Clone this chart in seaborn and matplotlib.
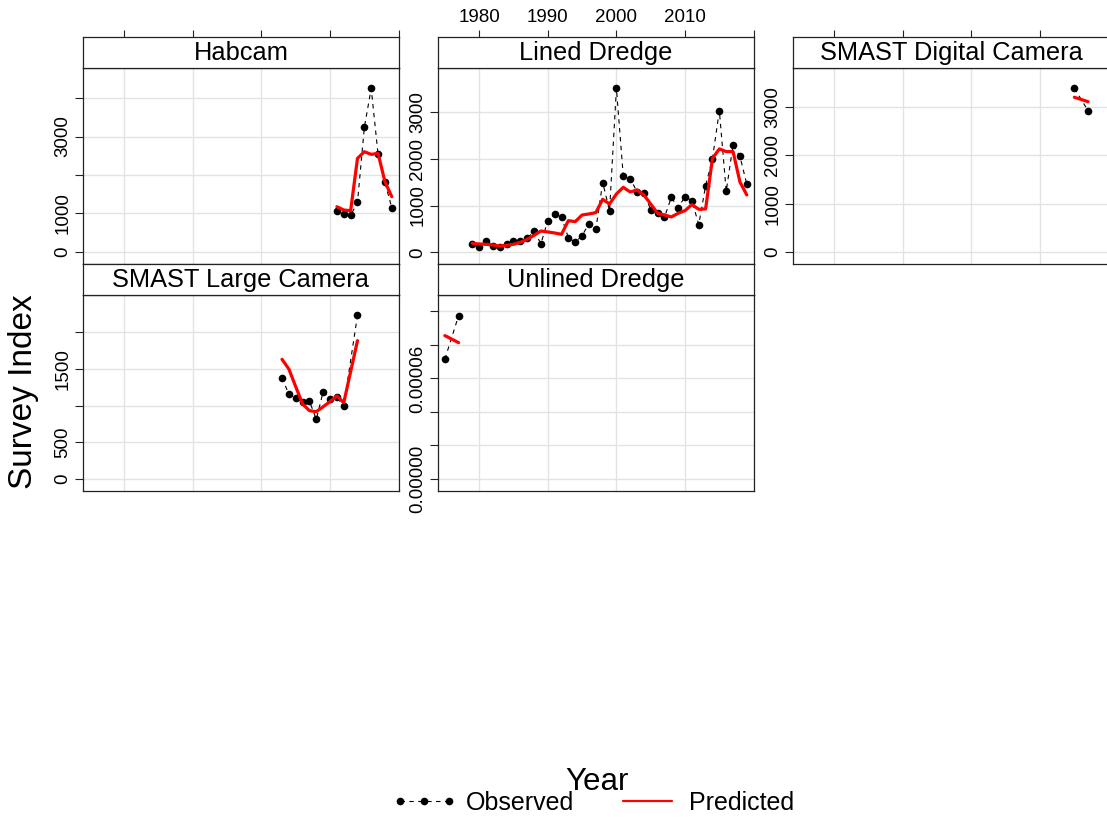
import matplotlib
matplotlib.use("Agg")
import matplotlib.pyplot as plt
from matplotlib.lines import Line2D
import pandas as pd
import seaborn as sns

# --- data ---
habcam_years = [2011, 2012, 2013, 2014, 2015, 2016, 2017, 2018, 2019]
habcam_obs = [1068, 973, 947, 1285, 3238, 4253, 2535, 1806, 1146]
habcam_pred = [1172, 1086, 1068, 2431, 2604, 2535, 2560, 1823, 1432]

lined_years = list(range(1979, 2020))
lined_obs = [185, 121, 249, 143, 114, 171, 249, 249, 299, 449,
             185, 677, 813, 748, 314, 214, 356, 613, 492, 1490,
             891, 3507, 1625, 1575, 1297, 1276, 912, 834, 748, 1176,
             955, 1190, 1105, 592, 1426, 2003, 3029, 1304, 2302, 2053,
             1454]
lined_pred = [192, 178, 171, 157, 135, 150, 171, 214, 278, 363,
              456, 435, 413, 385, 677, 656, 798, 820, 848, 1133,
              1033, 1247, 1390, 1290, 1333, 1226, 1033, 834, 798, 756,
              834, 891, 1019, 919, 927, 2010, 2210, 2153, 2153, 1504,
              1226]

smast_dig_years = [2015, 2017]
smast_dig_obs = [3397, 2931]
smast_dig_pred = [3210, 3119]

smast_large_years = [2003, 2004, 2005, 2006, 2007, 2008, 2009, 2010, 2011, 2012, 2014]
smast_large_obs = [1382, 1155, 1101, 1046, 1060, 814, 1191, 1091, 1114, 996, 2233]
smast_large_pred = [1633, 1500, 1259, 1023, 932, 918, 986, 1055, 1132, 1041, 1887]

unlined_years = [1975, 1977]
unlined_obs = [7.15e-5, 9.75e-5]
unlined_pred = [8.56e-5, 8.14e-5]

year_ticks = [1980, 1990, 2000, 2010, 2020]
year_labels = ["1980", "1990", "2000", "2010", ""]

sns.set_theme(style="white")
plt.rcParams["font.family"] = ["Liberation Sans", "DejaVu Sans"]

W, H = 1107, 819
fig = plt.figure(figsize=(W / 100, H / 100), dpi=100)


def box(x0, y0, x1, y1):
    return [x0 / W, 1 - y1 / H, (x1 - x0) / W, (y1 - y0) / H]


# name, years, obs, pred, ylim, yticks, yticklabels, row, col
panels = [
    ("Habcam", habcam_years, habcam_obs, habcam_pred, (-320, 4784),
     [0, 1000, 2000, 3000, 4000], ["0", "1000", "", "3000", ""], 0, 0),
    ("Lined Dredge", lined_years, lined_obs, lined_pred, (-250, 3940),
     [0, 1000, 2000, 3000], ["0", "1000", "2000", "3000"], 0, 1),
    ("SMAST Digital Camera", smast_dig_years, smast_dig_obs, smast_dig_pred, (-256, 3819),
     [0, 1000, 2000, 3000], ["0", "1000", "2000", "3000"], 0, 2),
    ("SMAST Large Camera", smast_large_years, smast_large_obs, smast_large_pred, (-164, 2510),
     [0, 500, 1000, 1500, 2000], ["0", "500", "", "1500", ""], 1, 0),
    ("Unlined Dredge", unlined_years, unlined_obs, unlined_pred, (-7.2e-6, 1.0985e-4),
     [0, 2e-5, 4e-5, 6e-5, 8e-5, 1e-4], ["0.00000", "", "", "0.00006", "", ""], 1, 1),
]

col_x = [83, 438, 793]
rows = [(37, 68, 264), (264, 295, 491)]
pw = 316
xlim = (1974.0, 2020.05)
edge = "#222222"

for name, yrs, obs, pred, ylim, yt, ytl, r, c in panels:
    s_top, p_top, p_bot = rows[r]
    x0 = col_x[c]
    ax = fig.add_axes(box(x0, p_top, x0 + pw, p_bot))
    strip = fig.add_axes(box(x0, s_top, x0 + pw, p_top))

    obs_df = pd.DataFrame({"Year": yrs, "Index": obs})
    pred_df = pd.DataFrame({"Year": yrs, "Index": pred})
    sns.lineplot(data=obs_df, x="Year", y="Index", ax=ax, color="black",
                 lw=0.8, linestyle=(0, (4, 4)), marker="o", markersize=5.5,
                 markeredgewidth=0, zorder=3)
    sns.lineplot(data=pred_df, x="Year", y="Index", ax=ax, color="red",
                 lw=2.3, zorder=4)

    ax.set_xlim(xlim)
    ax.set_ylim(ylim)
    ax.set_xticks(year_ticks)
    ax.set_yticks(yt)
    ax.set_yticklabels(ytl, rotation=90, va="center")
    ax.grid(True, color="#e3e3e3", lw=1.0)
    ax.set_axisbelow(True)
    ax.set_xlabel("")
    ax.set_ylabel("")
    ax.tick_params(axis="x", bottom=False, labelbottom=False)
    ax.tick_params(axis="y", left=True, direction="out", length=6, width=0.8,
                   color=edge, pad=2.5, labelsize=13.5, labelcolor="black")
    for sp in ax.spines.values():
        sp.set_color(edge)
        sp.set_linewidth(0.9)

    strip.set_facecolor("white")
    strip.set_xlim(xlim)
    strip.set_ylim(0, 1)
    strip.set_yticks([])
    if r == 0:
        strip.xaxis.tick_top()
        strip.set_xticks(year_ticks)
        strip.set_xticklabels(year_labels if c == 1 else [""] * len(year_ticks))
        strip.tick_params(axis="x", top=True, direction="out", length=5, width=0.8,
                          color=edge, pad=3, labelsize=13.5, labelcolor="black")
    else:
        strip.set_xticks([])
    for sp in strip.spines.values():
        sp.set_color(edge)
        sp.set_linewidth(0.9)
    strip.text(0.5, 0.47, name, transform=strip.transAxes, ha="center",
               va="center", fontsize=18.3, color="black")

fig.text(24 / W, 1 - 392 / H, "Survey Index", rotation=90, ha="center",
         va="center", fontsize=24, color="black")
fig.text(597 / W, 1 - 790 / H, "Year", ha="center", va="baseline",
         fontsize=22.5, color="black")

handles = [
    Line2D([], [], color="black", lw=0.8, linestyle=(0, (4, 4)), marker="o",
           markersize=5.5, markeredgewidth=0),
    Line2D([], [], color="red", lw=1.6),
]
fig.legend(handles, ["Observed", "Predicted"], loc="center", ncol=2,
           bbox_to_anchor=(593 / W, 1 - 803 / H), frameon=False, fontsize=18,
           numpoints=3, handlelength=2.56, handletextpad=0.38,
           columnspacing=1.64, borderpad=0, labelcolor="black")

fig.savefig("out.png", dpi=100, facecolor="white")
